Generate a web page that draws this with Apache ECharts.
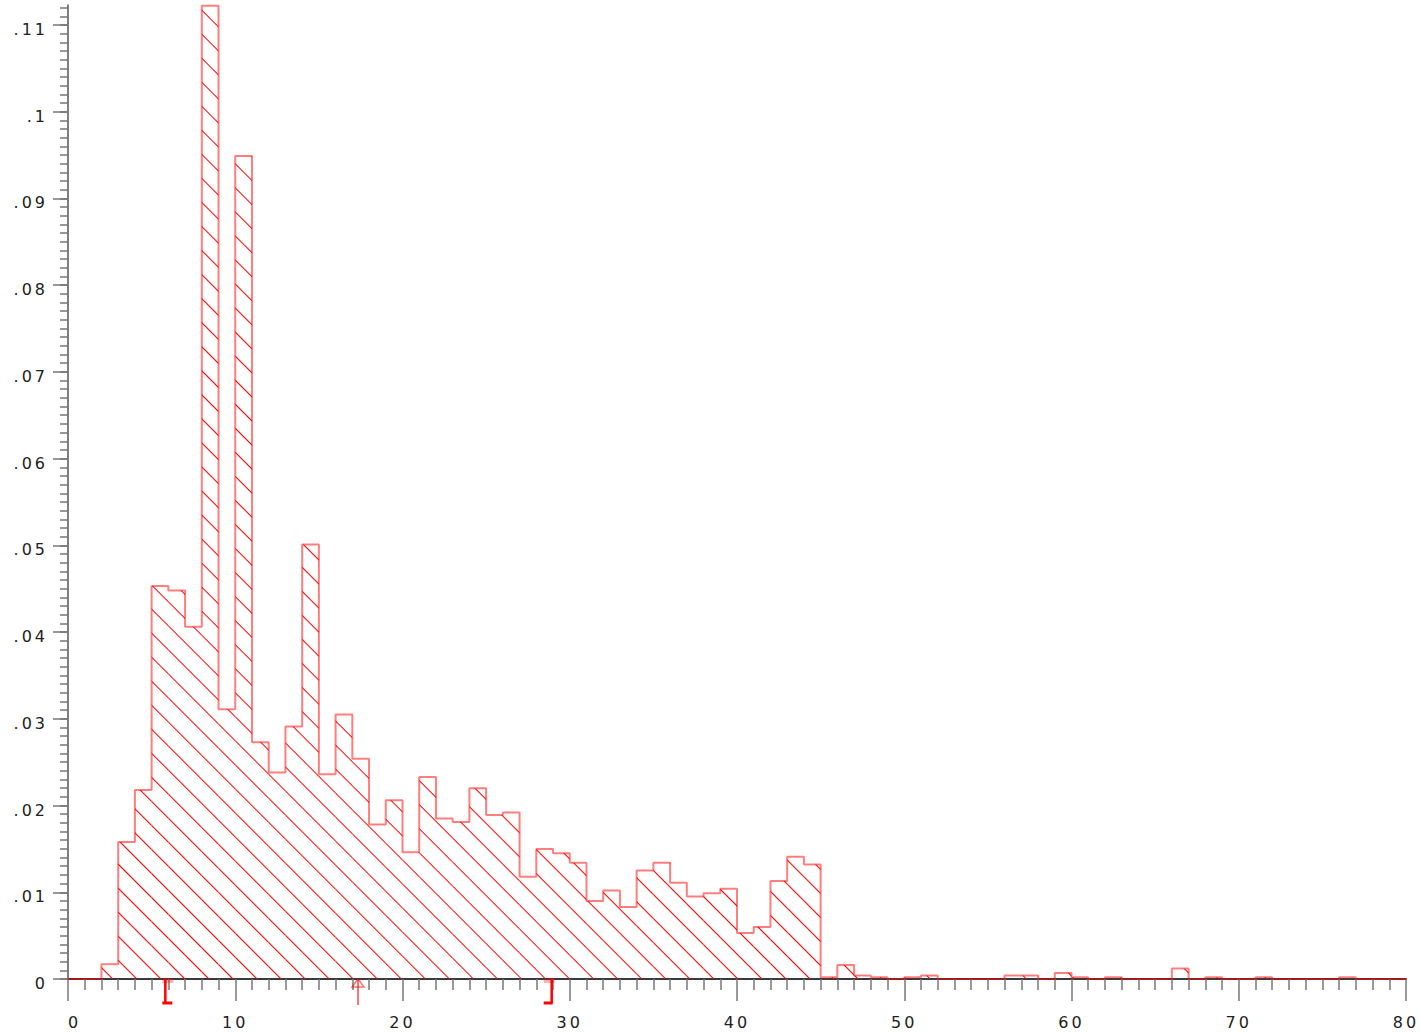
<!DOCTYPE html>
<html><head><meta charset="utf-8">
<script src="https://cdn.jsdelivr.net/npm/echarts@6/dist/echarts.min.js"></script>
<style>
html,body{margin:0;padding:0;background:#fff;}
#chart{width:1420px;height:1034px;}
#chart text{letter-spacing:3px;}
</style></head><body><div id="chart"></div>
<script>
// bin starts (width 1)
const binStarts = [0,1,2,3,4,5,6,7,8,9,10,11,12,13,14,15,16,17,18,19,20,21,22,23,24,25,26,27,28,29,30,31,32,33,34,35,36,37,38,39,40,41,42,43,44,45,46,47,48,49,50,51,52,53,54,55,56,57,58,59,60,61,62,63,64,65,66,67,68,69,70,71,72,73,74,75,76,77,78,79];
const density = [0,0,0.0017,0.0158,0.0218,0.0453,0.0448,0.0406,0.1122,0.0311,
  0.0949,0.0273,0.0238,0.0291,0.0501,0.0236,0.0305,0.0254,0.0178,0.0206,
  0.0146,0.0233,0.0185,0.0181,0.0220,0.0189,0.0192,0.0118,0.0150,0.0145,
  0.0134,0.0090,0.0102,0.0083,0.0125,0.0134,0.0111,0.0095,0.0099,0.0104,
  0.0053,0.0060,0.0113,0.0141,0.0132,0.0002,0.0016,0.0004,0.0002,0,
  0.0002,0.0004,0,0,0,0,0.0004,0.0004,0,0.0007,
  0.0002,0,0.0002,0,0,0,0.0012,0,0.0002,0,
  0,0.0002,0,0,0,0,0.0002,0,0,0];
const xTickValues = [0,10,20,30,40,50,60,70,80];
const xTickLabels = ['0','10','20','30','40','50','60','70','80'];
const yTickValues = [0,0.01,0.02,0.03,0.04,0.05,0.06,0.07,0.08,0.09,0.1,0.11];
const yTickLabels = ['0','.01','.02','.03','.04','.05','.06','.07','.08','.09','.1','.11'];
const markerValues = [5.82, 17.34, 28.92];
const markerKinds = ['lower','mean','upper'];

const yMax = 0.1123;
const yMinorValues = [];
for (let i = 0; i <= 112; i++) yMinorValues.push(i / 1000);

const outline = binStarts.map((b, i) => [b, density[i]]);
outline.push([binStarts[binStarts.length - 1] + 1, density[density.length - 1]]);

const chart = echarts.init(document.getElementById('chart'), null, {renderer: 'svg'});
const font = 'DejaVu Sans';
chart.setOption({
  animation: false,
  backgroundColor: '#fff',
  grid: {left: 68, right: 14, top: 5, bottom: 55, containLabel: false},
  xAxis: [{
    type: 'value', min: 0, max: 80, interval: 10,
    axisLine: {show: true, lineStyle: {color: '#3a3a3a', width: 2}},
    axisTick: {show: true, length: 22, lineStyle: {color: '#777', width: 1.5}},
    minorTick: {show: true, splitNumber: 10, length: 11, lineStyle: {color: '#777', width: 1.5}},
    splitLine: {show: false},
    axisLabel: {margin: 35, fontSize: 16, fontFamily: font, color: '#222', alignMinLabel: 'left',
      formatter: v => { const k = xTickValues.indexOf(v); return k >= 0 ? xTickLabels[k] : ''; }}
  }, {
    type: 'category', data: binStarts.map(String), show: false, boundaryGap: true
  }],
  yAxis: [{
    type: 'value', min: 0, max: yMax, position: 'left',
    axisLine: {show: true, lineStyle: {color: '#555', width: 1.5}},
    axisTick: {show: true, length: 15, customValues: yTickValues, lineStyle: {color: '#777', width: 1.5}},
    splitLine: {show: false},
    axisLabel: {customValues: yTickValues, margin: 20, fontSize: 16, fontFamily: font, color: '#222',
      verticalAlign: 'top', lineHeight: 9,
      formatter: v => { const k = yTickValues.findIndex(t => Math.abs(t - v) < 1e-9); return k >= 0 ? yTickLabels[k] : ''; }}
  }, {
    type: 'value', min: 0, max: yMax, position: 'left',
    axisLine: {show: false},
    axisTick: {show: true, length: 8, customValues: yMinorValues, lineStyle: {color: '#777', width: 1.5}},
    axisLabel: {show: false},
    splitLine: {show: false}
  }],
  series: [{
    type: 'bar', xAxisIndex: 1, yAxisIndex: 0, data: density,
    barCategoryGap: '0%', barGap: '0%', silent: true,
    itemStyle: {
      color: 'rgba(0,0,0,0)',
      decal: {symbol: 'rect', symbolSize: 1, dashArrayX: [1, 0], dashArrayY: [1, 16],
        rotation: Math.PI / 4, color: '#ff0000', backgroundColor: null}
    }
  }, {
    type: 'line', xAxisIndex: 0, yAxisIndex: 0, data: outline, step: 'end',
    symbol: 'none', silent: true, z: 3,
    lineStyle: {color: 'rgba(255,0,0,0.5)', width: 2}
  }, {
    type: 'custom', xAxisIndex: 0, yAxisIndex: 0, z: 5, silent: true, clip: false,
    data: markerValues.map(v => [v, 0]),
    encode: {x: 0, y: 1},
    renderItem: (params, api) => {
      const p = api.coord([api.value(0), 0]);
      const kind = markerKinds[params.dataIndex];
      const x = p[0], y = p[1];
      if (kind === 'mean') {
        const c = 'rgba(255,0,0,0.55)';
        return {type: 'group', children: [
          {type: 'polygon', shape: {points: [[x, y], [x - 6, y + 8], [x + 6, y + 8]]},
            style: {fill: 'none', stroke: c, lineWidth: 1.5}},
          {type: 'line', shape: {x1: x, y1: y + 1, x2: x, y2: y + 26}, style: {stroke: c, lineWidth: 2}}
        ]};
      }
      const capL = kind === 'lower' ? x - 3 : x - 8;
      const capR = kind === 'lower' ? x + 7 : x + 1;
      const rx = kind === 'lower' ? x - 3 : x - 8;
      return {type: 'group', children: [
        {type: 'rect', shape: {x: rx, y: y - 1, width: 11, height: 5}, style: {fill: 'rgba(255,0,0,0.3)'}},
        {type: 'line', shape: {x1: x, y1: y, x2: x, y2: y + 24}, style: {stroke: '#ff0000', lineWidth: 2.5}},
        {type: 'line', shape: {x1: capL, y1: y + 24, x2: capR, y2: y + 24}, style: {stroke: '#ff0000', lineWidth: 3}}
      ]};
    }
  }]
});
</script></body></html>
